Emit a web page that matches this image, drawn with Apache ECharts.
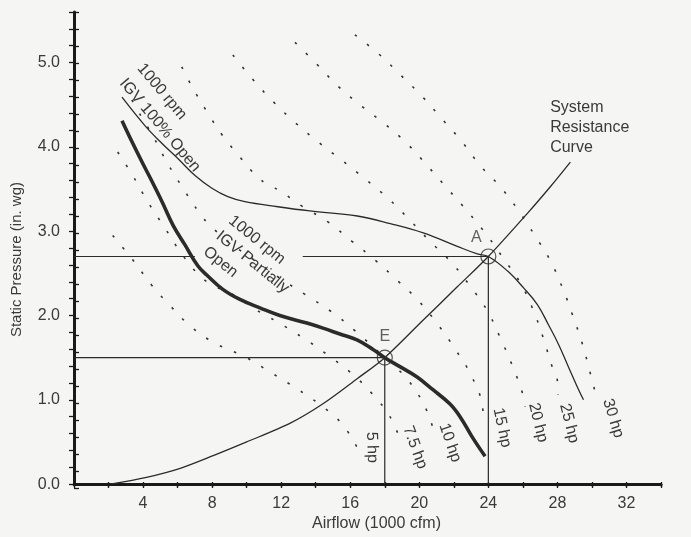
<!DOCTYPE html>
<html>
<head>
<meta charset="utf-8">
<title>Fan curve with inlet guide vanes</title>
<script src="https://cdn.jsdelivr.net/npm/echarts@6/dist/echarts.min.js"></script>
<style>
  html, body { margin: 0; padding: 0; background: #f5f5f3; }
  #chart { width: 691px; height: 537px; }
</style>
</head>
<body>
<div id="chart"></div>
<script>
// airflow in 1000 cfm, static pressure in in. wg
const fanFullOpen = [[2.78,4.59],[4.12,4.25],[5.10,4.04],[6.03,3.86],[7.01,3.66],[7.99,3.51],[8.91,3.41],[9.90,3.35],[11.81,3.29],[13.66,3.24],[16.41,3.18],[18.32,3.09],[20.23,2.98],[22.2,2.82],[23.36,2.73],[24,2.7],[25.1,2.53],[26.03,2.33],[26.84,2.13],[27.48,1.89],[28.06,1.66],[28.64,1.39],[29.16,1.15],[29.51,1.0]];
const fanPartOpen = [[2.78,4.31],[3.36,4.06],[3.94,3.82],[4.52,3.59],[5.10,3.35],[5.74,3.07],[6.42,2.84],[7.17,2.59],[7.69,2.48],[8.62,2.31],[9.61,2.19],[10.77,2.09],[11.92,2.0],[13.49,1.91],[14.42,1.85],[15.40,1.78],[16.39,1.71],[17.3,1.6],[18,1.5],[18.9,1.39],[19.87,1.27],[20.79,1.12],[21.78,0.95],[22.36,0.80],[23.06,0.56],[23.81,0.33]];
const systemCurve = [[2.1,0],[4.2,0.08],[6.2,0.19],[8.1,0.34],[10,0.5],[12.5,0.72],[14.4,0.95],[16.4,1.25],[18,1.5],[20.2,1.94],[22.2,2.34],[24,2.7],[26.3,3.22],[27.6,3.53],[28.75,3.82]];

// constant brake horsepower lines
const hp5 = [[2.24,2.95],[3.40,2.66],[4.50,2.36],[5.55,2.12],[6.82,1.86],[8.27,1.66],[9.90,1.51],[11.35,1.33],[12.92,1.13],[14.26,0.94],[15.54,0.71],[16.46,0.41]];
const hp7_5 = [[2.53,3.94],[3.40,3.66],[4.27,3.35],[5.26,3.04],[6.24,2.73],[7.29,2.47],[8.04,2.36],[9.20,2.25],[10.36,2.09],[11.81,1.92],[13.38,1.72],[14.71,1.53],[16.10,1.31],[17.32,1.06],[18.30,0.80],[19.00,0.47]];
const hp10 = [[2.94,4.72],[3.64,4.45],[4.57,4.13],[5.38,3.82],[6.31,3.51],[7.29,3.21],[7.87,3.07],[9.04,2.86],[10.49,2.65],[11.94,2.44],[13.38,2.25],[14.94,2.04],[16.27,1.82],[17.95,1.51],[19.28,1.25],[20.32,0.92],[20.90,0.59]];
const hp15 = [[6.24,4.95],[6.82,4.72],[7.69,4.42],[8.62,4.13],[9.61,3.88],[10.59,3.65],[11.25,3.55],[11.92,3.48],[12.62,3.38],[13.26,3.29],[14.71,3.11],[16.10,2.88],[17.43,2.66],[18.71,2.42],[19.93,2.18],[21.09,1.89],[22.08,1.60],[22.95,1.31],[23.64,0.95],[23.70,0.78]];
const hp20 = [[9.20,5.09],[10.36,4.80],[11.52,4.54],[12.80,4.29],[14.13,4.06],[15.52,3.84],[16.86,3.62],[18.19,3.39],[19.46,3.13],[20.62,2.88],[21.90,2.62],[22.94,2.35],[23.93,2.06],[24.68,1.74],[25.38,1.41],[25.96,1.09],[26.13,0.92]];
const hp25 = [[12.80,5.24],[14.07,4.98],[15.29,4.72],[16.68,4.48],[18.01,4.27],[19.29,4.04],[20.45,3.78],[21.61,3.51],[22.77,3.24],[23.93,2.95],[24.86,2.68],[25.84,2.39],[26.59,2.07],[27.17,1.74],[27.70,1.39],[27.99,1.24],[28.04,1.06]];
const hp30 = [[16.27,5.33],[17.72,5.09],[18.88,4.86],[20.16,4.60],[21.32,4.33],[22.48,4.06],[23.52,3.78],[24.68,3.53],[25.73,3.25],[26.72,2.94],[27.59,2.65],[28.29,2.33],[28.87,2.01],[29.45,1.66],[29.91,1.31],[30.32,0.98]];
const hpNames = ['5 hp', '7.5 hp', '10 hp', '15 hp', '20 hp', '25 hp', '30 hp'];

// operating points and their drop lines
const opPoints = [[24, 2.7], [18, 1.5]];
const opNames = ['A', 'E'];
const guideA1 = [[0, 2.7], [7.0, 2.7]];
const guideA2 = [[13.25, 2.7], [24, 2.7]];
const guideAv = [[24, 0], [24, 2.7]];
const guideE = [[0, 1.5], [18, 1.5]];
const guideEv = [[18, 0], [18, 1.5]];

const FONT = '"Liberation Sans", Arial, sans-serif';
const INK = '#2b2b2b';
const TXT = '#3a3a3a';

const gridBox = { left: 74, right: 30, top: 12, bottom: 49 };

function thin(data, w, s) {
  return {
    type: 'line', data: data, smooth: s == null ? 0.4 : s, showSymbol: false, silent: true,
    lineStyle: { color: INK, width: w || 1.2 }
  };
}
function dotted(data) {
  return {
    type: 'line', data: data, smooth: 0.4, showSymbol: false, silent: true,
    lineStyle: { color: '#333', width: 1.6, type: [2.5, 13] }
  };
}

const option = {
  backgroundColor: '#f5f5f3',
  animation: false,
  grid: [
    Object.assign({}, gridBox),
    Object.assign({}, gridBox)
  ],
  xAxis: [
    {
      type: 'value', min: 0, max: 34, interval: 2,
      name: 'Airflow (1000 cfm)', nameLocation: 'middle', nameGap: 27,
      nameTextStyle: { fontFamily: FONT, fontSize: 16, color: TXT, padding: [0, 0, 0, 18] },
      axisLine: { onZero: false, lineStyle: { color: '#1a1a1a', width: 3 } },
      axisTick: { inside: false, length: 3, lineStyle: { color: '#1a1a1a', width: 1.3 } },
      axisLabel: {
        margin: 11, fontFamily: FONT, fontSize: 16, color: TXT,
        formatter: v => (v > 0 && v % 4 === 0) ? String(v) : ''
      },
      splitLine: { show: false }
    },
    {
      type: 'value', gridIndex: 1, min: 0, max: 34, interval: 2,
      axisLine: { show: false },
      axisTick: { inside: true, length: 6, lineStyle: { color: '#1a1a1a', width: 1.3 } },
      axisLabel: { show: false },
      splitLine: { show: false }
    }
  ],
  yAxis: [
    {
      type: 'value', min: 0, max: 5.6, interval: 0.2,
      name: 'Static Pressure (in. wg)', nameLocation: 'middle', nameGap: 50,
      nameTextStyle: { fontFamily: FONT, fontSize: 15, color: TXT, padding: [0, 23, 0, 0] },
      axisLine: { onZero: false, lineStyle: { color: '#1a1a1a', width: 3 } },
      axisTick: { inside: false, length: 5, lineStyle: { color: '#1a1a1a', width: 1.3 } },
      axisLabel: {
        margin: 14, fontFamily: FONT, fontSize: 16, color: TXT,
        formatter: v => Math.abs(v - Math.round(v)) < 1e-6 ? v.toFixed(1) : ''
      },
      splitLine: { show: false }
    },
    {
      type: 'value', gridIndex: 1, min: 0, max: 5.6, interval: 0.2,
      axisLine: { show: false },
      axisTick: { inside: true, length: 5, lineStyle: { color: '#1a1a1a', width: 1.3 } },
      axisLabel: { show: false },
      splitLine: { show: false }
    }
  ],
  series: [
    dotted(hp5), dotted(hp7_5), dotted(hp10), dotted(hp15),
    dotted(hp20), dotted(hp25), dotted(hp30),
    thin(guideA1), thin(guideA2), thin(guideAv), thin(guideE), thin(guideEv),
    thin(systemCurve, 1.3, 0.3),
    thin(fanFullOpen, 1.3),
    thin(fanPartOpen, 3.6),
    {
      type: 'scatter', silent: true, z: 5,
      data: opPoints.map((p, i) => ({ value: p, name: opNames[i] })),
      symbol: 'circle', symbolSize: 15,
      itemStyle: { color: 'rgba(0,0,0,0)', borderColor: INK, borderWidth: 1.2 },
      label: {
        show: true, position: 'top', distance: 5,
        formatter: p => p.name,
        fontFamily: FONT, fontSize: 16, color: TXT
      },
      labelLayout: p => p.dataIndex === 0 ? { dx: -12, dy: 2 } : { dx: 0, dy: 0 }
    }
  ]
};

const chart = echarts.init(document.getElementById('chart'));
chart.setOption(option);

// text notes, anchored in data units
const notes = [
  { at: [4.34, 5.05], text: '1000 rpm\nIGV 100% Open', rot: -50, lh: 23, align: 'left', va: 'top' },
  { at: [9.43, 3.24], text: '1000 rpm\nIGV Partially\nOpen', rot: -39, lh: 20, align: 'left', va: 'top' },
  { at: [27.58, 4.59], text: 'System\nResistance\nCurve', rot: 0, lh: 20, align: 'left', va: 'top' }
];
const hpAt = [[17.26, 0.435], [19.75, 0.435], [21.78, 0.49], [24.79, 0.67], [26.88, 0.73], [28.68, 0.72], [31.23, 0.78]];
const hpRot = [-88, -70, -71, -78, -76, -76, -73];
hpNames.forEach((t, i) => {
  notes.push({ at: hpAt[i], text: t, rot: hpRot[i], lh: 18, align: 'center', va: 'middle' });
});

chart.setOption({
  graphic: notes.map(n => {
    const p = chart.convertToPixel({ xAxisIndex: 0, yAxisIndex: 0 }, n.at);
    return {
      type: 'text', x: p[0], y: p[1], silent: true, z: 10,
      rotation: n.rot * Math.PI / 180,
      style: {
        text: n.text, fill: TXT, font: '16px ' + FONT,
        textAlign: n.align, textVerticalAlign: n.va, lineHeight: n.lh
      }
    };
  })
});
</script>
</body>
</html>
